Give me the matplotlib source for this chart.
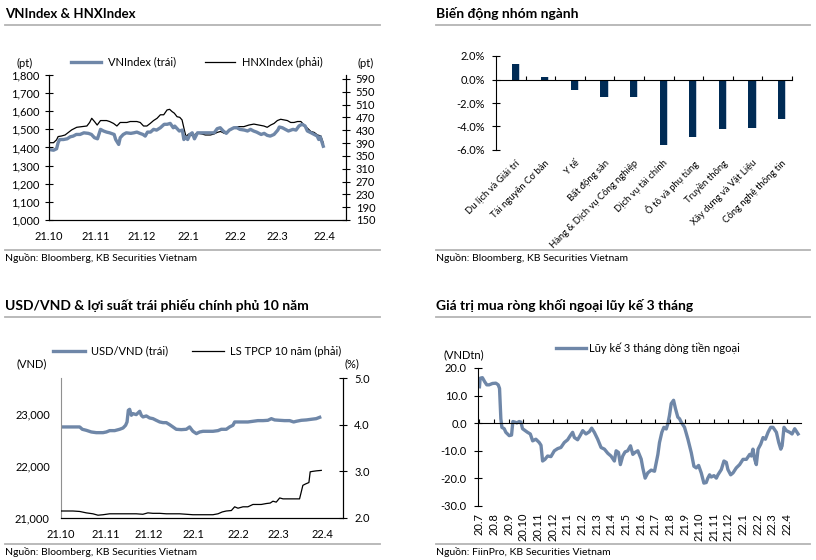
import matplotlib.pyplot as plt
from matplotlib.lines import Line2D

plt.rcParams['font.family'] = ['Lato', 'DejaVu Sans']
plt.rcParams['font.size'] = 8

BLUE = '#6f87a8'
NAVY = '#002b55'
GRID = '#b4b4b4'

# ---- panel 1: VNIndex & HNXIndex (days since 2021-10-01)
month_days = [0, 31, 61, 92, 123, 151, 182]
month_labels_1 = ['21.10', '21.11', '21.12', '22.1', '22.2', '22.3', '22.4']

vn_days = [0, 3, 5, 6, 7, 9.5, 12, 14, 16, 18, 20.5, 23, 26, 28, 30, 32, 34, 36, 38, 40,
           43, 44, 46, 47, 49, 51, 54, 56, 58, 60, 62, 63.5, 65, 67, 69, 71, 73.5, 76, 78, 80,
           82, 83, 86, 88, 89, 90, 91.5, 93, 94.5, 96, 98, 100, 102, 104, 106.5, 109, 111, 113, 115, 117,
           119, 122, 124, 126, 129, 131, 133, 135, 137, 140, 142, 144, 146, 148.5, 151, 152, 154, 156, 158, 161,
           163, 165, 167, 169, 170.5, 173, 175, 177, 178, 179, 181]
vn_vals = [1389, 1385, 1393, 1426, 1444, 1444, 1448, 1459, 1463, 1472, 1472, 1481, 1478, 1472, 1454, 1448, 1500, 1491, 1485, 1481,
           1472, 1444, 1417, 1454, 1472, 1481, 1478, 1481, 1485, 1478, 1472, 1463, 1485, 1485, 1500, 1496, 1509, 1528, 1528, 1533,
           1509, 1518, 1491, 1496, 1444, 1459, 1444, 1472, 1481, 1448, 1481, 1481, 1481, 1481, 1481, 1481, 1504, 1509, 1491, 1478,
           1496, 1509, 1509, 1500, 1496, 1491, 1500, 1491, 1485, 1472, 1478, 1467, 1463, 1472, 1496, 1513, 1509, 1500, 1491, 1500,
           1496, 1519, 1528, 1519, 1491, 1481, 1472, 1463, 1444, 1459, 1407]

hnx_days = [0, 3, 5, 6, 8.4, 10.6, 12.8, 15, 18.3, 21.6, 25, 26.8, 28.2, 30, 31.8, 34, 36, 38, 40, 42.6,
            44.8, 47, 49.2, 51.4, 53.6, 55.8, 58, 60.2, 62.4, 64.6, 66.8, 69, 71.3, 73.5, 75.7, 77.9, 79.6, 81.2, 82.7, 84.5,
            86.3, 87.8, 89.3, 90.4, 92.2, 93.7, 95.5, 96.6, 98.8, 101, 103.2, 106.5, 108.8, 111, 113.2, 115.8, 117.6, 119.8, 122, 125.3,
            128.6, 131.9, 135.2, 138.5, 141.8, 144, 146.3, 148.5, 150.7, 152.9, 155.1, 157.3, 159.5, 161.7, 164, 166.2, 168.4, 170.6, 172.8, 175,
            177.2, 179.4, 181.1]
hnx_vals = [391, 391, 400, 410, 412, 415, 423, 431, 439, 441, 443, 454, 467, 457, 446, 460, 460, 460, 457, 451,
            443, 454, 454, 454, 457, 457, 457, 454, 443, 443, 451, 460, 467, 478, 478, 493, 495, 488, 483, 472,
            470, 462, 431, 410, 418, 415, 410, 418, 420, 418, 415, 415, 418, 423, 426, 420, 426, 431, 438, 441,
            441, 446, 449, 446, 443, 439, 446, 451, 460, 464, 462, 460, 454, 454, 457, 457, 446, 436, 426, 423,
            415, 412, 389]

# ---- panel 2: sector performance
sectors = ['Du lịch và Giải trí', 'Tài nguyên Cơ bản', 'Y tế', 'Bất động sản',
           'Hàng & Dịch vụ Công nghiệp', 'Dịch vụ tài chính', 'Ô tô và phụ tùng',
           'Truyền thông', 'Xây dựng và Vật Liệu', 'Công nghệ thông tin']
sector_chg = [1.3, 0.2, -0.9, -1.45, -1.5, -5.6, -4.9, -4.25, -4.1, -3.4]

# ---- panel 3: USD/VND & 10y bond yield (days since 2021-10-01)
usd_days = [0, 3.7, 8.3, 13, 14.8, 17.6, 21.1, 24.5, 29.2, 31.5, 33.8, 37.3, 40.8, 43.1, 44.9, 45.9, 46.8, 47.7, 48.9, 50,
            52.3, 54.7, 55.8, 57, 59.3, 61.6, 63.9, 66.2, 68.6, 70.9, 73.2, 75.5, 77.8, 80.1, 83.6, 87.1, 89.4, 90.6, 91.7, 94.1,
            96.4, 98.7, 102.2, 105.6, 109.1, 111.4, 114.9, 117.2, 119.5, 120.7, 123, 126.5, 129.9, 133.4, 136.9, 140.4, 143.8, 146.2, 148.5, 152,
            155.4, 158.9, 161.7, 163.5, 167, 170.5, 174, 177.4, 179.8]
usd_vals = [22756, 22756, 22756, 22756, 22711, 22691, 22659, 22646, 22646, 22659, 22685, 22685, 22711, 22736, 22788, 22852, 23077, 23096, 22981, 23013,
            22994, 23058, 22981, 22949, 22968, 22929, 22916, 22884, 22852, 22839, 22839, 22800, 22756, 22711, 22704, 22711, 22756, 22711, 22672, 22627,
            22659, 22672, 22672, 22672, 22685, 22711, 22711, 22756, 22788, 22852, 22852, 22852, 22852, 22865, 22878, 22878, 22884, 22916, 22891, 22884,
            22878, 22878, 22852, 22865, 22884, 22891, 22904, 22916, 22942]

bond_days = [0, 8.3, 13, 17.6, 22.2, 25.7, 29.2, 33.8, 38.4, 43.1, 47.7, 52.3, 56.9, 60.4, 63.9, 68.6, 73.2, 77.8, 82.5, 87.1,
             91.7, 96.4, 101, 105.6, 109.1, 112.1, 114.9, 118.4, 120.7, 123, 126.5, 129.9, 133.4, 135.7, 139.2, 142.7, 145.4, 147.3, 149.6, 152,
             154.3, 158.9, 163.5, 165.8, 167, 168.1, 170, 172.3, 173.2, 175.1, 177.4, 180.9]
bond_vals = [2.15, 2.15, 2.14, 2.11, 2.09, 2.06, 2.07, 2.09, 2.09, 2.09, 2.09, 2.09, 2.08, 2.11, 2.10, 2.10, 2.09, 2.09, 2.09, 2.08,
             2.07, 2.07, 2.07, 2.07, 2.09, 2.13, 2.15, 2.16, 2.24, 2.21, 2.24, 2.24, 2.29, 2.29, 2.29, 2.31, 2.32, 2.36, 2.34, 2.43,
             2.41, 2.41, 2.41, 2.41, 2.56, 2.70, 2.73, 2.76, 2.99, 3.00, 3.01, 3.02]

# ---- panel 4: foreign net buying, 3-month cumulative (months since 2020-07)
flow_labels = ['20.7', '20.8', '20.9', '20.10', '20.11', '20.12', '21.1', '21.2', '21.3', '21.4', '21.5',
               '21.6', '21.7', '21.8', '21.9', '21.10', '21.11', '21.12', '22.1', '22.2', '22.3', '22.4']
flow_months = [0, 0.05, 0.2, 0.36, 0.5, 0.66, 0.89, 1.12, 1.28, 1.37,
               1.46, 1.53, 1.69, 1.8, 2.03, 2.19, 2.28, 2.42, 2.55, 2.71,
               2.83, 2.94, 3.28, 3.47, 3.63, 3.85, 4.08, 4.2, 4.31, 4.47,
               4.65, 4.88, 5.11, 5.34, 5.56, 5.79, 6.02, 6.2, 6.36, 6.48,
               6.7, 6.89, 7.05, 7.27, 7.5, 7.66, 7.84, 8.07, 8.3, 8.53,
               8.76, 8.98, 9.21, 9.33, 9.49, 9.62, 9.78, 9.94, 10.12, 10.31,
               10.47, 10.62, 10.81, 11.04, 11.15, 11.31, 11.49, 11.72, 11.95, 12.06,
               12.18, 12.29, 12.45, 12.59, 12.75, 12.86, 12.97, 13.09, 13.25, 13.38,
               13.54, 13.66, 13.77, 14, 14.23, 14.46, 14.64, 14.8, 14.96, 15.14,
               15.32, 15.48, 15.59, 15.71, 15.82, 16.01, 16.17, 16.28, 16.51, 16.69,
               16.85, 16.96, 17.15, 17.31, 17.53, 17.76, 17.99, 18.22, 18.45, 18.56,
               18.67, 18.79, 18.9, 19.02, 19.2, 19.36, 19.52, 19.7, 19.88, 20.04,
               20.27, 20.43, 20.57, 20.66, 20.79, 20.95, 21.18, 21.34, 21.52, 21.75]
flow_vals = [13.2, 16.3, 16.5, 15, 13.9, 13.9, 14.4, 14.5, 13.9, 12.6,
             1.6, -1.5, -2, -3.3, -4.5, -4.3, 0.6, 0.4, 0.1, 0.6,
             0.4, -2, -3.3, -3.9, -6.4, -5.8, -7, -8, -13.7, -13.1,
             -11.9, -12.1, -10, -9.2, -8.8, -7, -6, -4.5, -3.3, -5.2,
             -6, -4.3, -2.7, -3.9, -3.1, -1.8, -3.3, -5.8, -8.8, -9.4,
             -10.9, -11.9, -13.7, -10, -10.6, -15, -11.9, -10.4, -10, -8.2,
             -11.3, -10.6, -10, -13, -16.2, -19.9, -18, -17, -17.4, -14.4,
             -11.3, -7, -3.3, -1.5, -2.1, -0.2, 2.8, 7.1, 8.3, 5.3,
             2.2, 1.6, 0.4, -1.5, -5.8, -10.7, -15.6, -16.2, -15.3, -18,
             -21.7, -21.5, -19.9, -18.7, -19.5, -19, -19.9, -18.7, -16.8, -13.7,
             -14.2, -16.8, -18.7, -18, -16.2, -15, -13.1, -13.1, -11.3, -11.9,
             -9.4, -13.1, -15, -9.4, -7.6, -5.2, -5.8, -3.3, -1.5, -1.5,
             -3.3, -7, -9.4, -8.2, -1.5, -2.7, -3.3, -3.9, -2, -3.9]

W, H = 816, 560


def fx(x):
    return x / W


def fy(y):
    return 1 - y / H


def box(left, top, right, bottom):
    return [fx(left), fy(bottom), (right - left) / W, (bottom - top) / H]


def hline(fig, x0, x1, y):
    fig.add_artist(Line2D([fx(x0), fx(x1)], [fy(y), fy(y)], transform=fig.transFigure,
                          color=GRID, lw=1.3))


def header(fig, x, title, ytitle, ysep, x1, ysrc_line, ysrc, source, size=10):
    fig.text(fx(x), fy(ytitle), title, fontsize=size, fontweight='bold', va='center', ha='left')
    hline(fig, x, x1, ysep)
    hline(fig, x, x1, ysrc_line)
    fig.text(fx(x), fy(ysrc), source, fontsize=7.5, va='center', ha='left')


fig = plt.figure(figsize=(W / 100, H / 100), dpi=100)

# ---------------- panel 1
header(fig, 5, 'VNIndex & HNXIndex', 14, 25, 380, 250, 258, 'Nguồn: Bloomberg, KB Securities Vietnam', size=9.5)
ax1 = fig.add_axes(box(49, 75, 346, 220))
l1, = ax1.plot(vn_days, vn_vals, color=BLUE, lw=2.4, label='VNIndex (trái)', zorder=2)
ax1.set_ylim(1000, 1800)
ax1.set_yticks(range(1000, 1801, 100))
ax1.set_yticklabels([f'{v:,}' for v in range(1000, 1801, 100)])
ax1.set_xlim(0, 196)
ax1.set_xticks(month_days)
ax1.set_xticklabels(month_labels_1)
ax1.tick_params(axis='y', direction='inout', length=6, width=0.8, pad=4)
ax1.tick_params(axis='x', length=0, pad=8)
ax1.spines['top'].set_visible(False)
ax1r = ax1.twinx()
l2, = ax1r.plot(hnx_days, hnx_vals, color='black', lw=0.9, label='HNXIndex (phải)', zorder=3)
ax1r.set_ylim(150, 602)
ax1r.set_yticks(range(150, 591, 40))
ax1r.tick_params(axis='y', direction='inout', length=6, width=0.8, pad=4)
ax1r.spines['top'].set_visible(False)
ax1.set_zorder(ax1r.get_zorder() + 1)
ax1.patch.set_visible(False)
fig.legend(handles=[l1, l2], loc='center', bbox_to_anchor=(fx(197), fy(62)), ncol=2, frameon=False,
           fontsize=8, handlelength=2.7, handletextpad=0.6, columnspacing=2.6)
fig.text(fx(25), fy(63), '(pt)', ha='center', va='center')
fig.text(fx(366), fy(63), '(pt)', ha='center', va='center')

# ---------------- panel 2
header(fig, 436, 'Biến động nhóm ngành', 14, 25, 810, 250, 258, 'Nguồn: Bloomberg, KB Securities Vietnam')
ax2 = fig.add_axes(box(496, 56, 792, 150))
pos = [i + 0.15 for i in range(len(sectors))]
ax2.bar([p + 0.035 for p in pos], sector_chg, width=0.24, color='#c3cedc', zorder=1)
ax2.bar(pos, sector_chg, width=0.24, color=NAVY, zorder=2)
ax2.set_xlim(-0.5, len(sectors) - 0.5)
ax2.set_ylim(-6, 2)
ax2.set_yticks([-6, -4, -2, 0, 2])
ax2.set_yticklabels([f'{v:.1f}%' for v in [-6, -4, -2, 0, 2]])
ax2.tick_params(axis='y', direction='inout', length=6, width=0.8, pad=5)
ax2.spines['top'].set_visible(False)
ax2.spines['right'].set_visible(False)
ax2.spines['bottom'].set_position(('data', 0))
ax2.set_xticks([i + 0.5 for i in range(len(sectors))])
ax2.tick_params(axis='x', direction='in', length=3, width=0.8, labelbottom=False)
sec2 = ax2.secondary_xaxis(0)
sec2.set_xticks(pos)
sec2.set_xticklabels(sectors, rotation=45, ha='right', rotation_mode='anchor', fontsize=6.8)
sec2.tick_params(length=0, pad=6)
sec2.spines['bottom'].set_visible(False)

# ---------------- panel 3
header(fig, 5, 'USD/VND & lợi suất trái phiếu chính phủ 10 năm', 305, 317, 380, 544, 552,
       'Nguồn: Bloomberg, KB Securities Vietnam')
ax3 = fig.add_axes(box(61, 378, 343, 518))
l3, = ax3.plot(usd_days, usd_vals, color=BLUE, lw=2.4, label='USD/VND (trái)')
ax3.set_ylim(21000, 23700)
ax3.set_yticks([21000, 22000, 23000])
ax3.set_yticklabels([f'{v:,}' for v in [21000, 22000, 23000]])
ax3.set_xlim(0, 196)
ax3.set_xticks(month_days)
ax3.set_xticklabels(month_labels_1)
ax3.tick_params(axis='y', length=0, pad=8)
ax3.tick_params(axis='x', length=0, pad=8)
ax3.spines['top'].set_visible(False)
ax3.spines['left'].set_color('#909090')
ax3r = ax3.twinx()
l4, = ax3r.plot(bond_days, bond_vals, color='black', lw=0.9, label='LS TPCP 10 năm (phải)')
ax3r.set_ylim(2, 5)
ax3r.set_yticks([2, 3, 4, 5])
ax3r.set_yticklabels([f'{v:.1f}' for v in [2, 3, 4, 5]])
ax3r.tick_params(axis='y', direction='inout', length=6, width=0.8, pad=5)
ax3r.spines['top'].set_visible(False)
ax3r.spines['left'].set_visible(False)
fig.legend(handles=[l3, l4], loc='center', bbox_to_anchor=(fx(197), fy(351)), ncol=2, frameon=False,
           fontsize=8, handlelength=2.9, handletextpad=0.5, columnspacing=2.2)
fig.text(fx(32), fy(364), '(VND)', ha='center', va='center')
fig.text(fx(352), fy(364), '(%)', ha='center', va='center')

# ---------------- panel 4
header(fig, 436, 'Giá trị mua ròng khối ngoại lũy kế 3 tháng', 305, 317, 810, 544, 552,
       'Nguồn: FiinPro, KB Securities Vietnam')
ax4 = fig.add_axes(box(478, 368, 801, 506))
l5, = ax4.plot(flow_months, flow_vals, color=BLUE, lw=2.4, label='Lũy kế 3 tháng dòng tiền ngoại')
ax4.set_ylim(-30, 20)
ax4.set_yticks(range(-30, 21, 10))
ax4.set_yticklabels([f'{v:.1f}' for v in range(-30, 21, 10)])
ax4.tick_params(axis='y', direction='inout', length=6, width=0.8, pad=5)
ax4.set_xlim(-0.1, 21.95)
ax4.spines['top'].set_visible(False)
ax4.spines['right'].set_visible(False)
ax4.spines['bottom'].set_position(('data', 0))
ax4.set_xticks(range(len(flow_labels)))
ax4.tick_params(axis='x', direction='in', length=3, width=0.8, labelbottom=False)
sec4 = ax4.secondary_xaxis(0)
sec4.set_xticks(range(len(flow_labels)))
sec4.set_xticklabels(flow_labels, rotation=90, fontsize=8)
sec4.tick_params(length=0, pad=5)
sec4.spines['bottom'].set_visible(False)
fig.legend(handles=[l5], loc='center', bbox_to_anchor=(fx(648), fy(348)), frameon=False,
           fontsize=8, handlelength=2.7, handletextpad=0.3)
fig.text(fx(464), fy(355), '(VNDtn)', ha='center', va='center')

fig.savefig('out.png', dpi=100)
